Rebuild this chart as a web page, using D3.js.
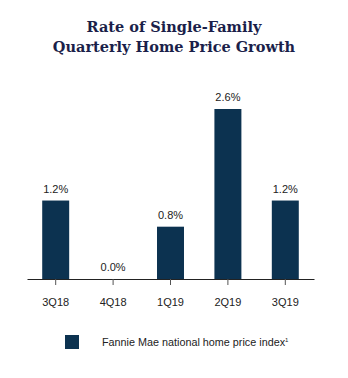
<!DOCTYPE html>
<html>
<head>
<meta charset="utf-8">
<script src="https://cdn.jsdelivr.net/npm/d3@7"></script>
<style>
  body { margin: 0; background: #fff; }
  svg { display: block; }
</style>
</head>
<body>
<svg id="chart"></svg>
<script>
const quarters = ["3Q18", "4Q18", "1Q19", "2Q19", "3Q19"];
const growth = [1.2, 0.0, 0.8, 2.6, 1.2];
const titleLines = ["Rate of Single-Family", "Quarterly Home Price Growth"];
const legendLabel = "Fannie Mae national home price index";

const width = 348, height = 378;
const margin = { top: 109, right: 34, bottom: 99, left: 27 };
const barColor = "#0c3250";

const svg = d3.select("#chart")
    .attr("width", width)
    .attr("height", height);

// title
svg.append("g")
    .selectAll("text")
    .data(titleLines)
    .join("text")
    .attr("x", 174)
    .attr("y", (d, i) => 32 + i * 20)
    .attr("text-anchor", "middle")
    .attr("font-family", "'DejaVu Serif', serif")
    .attr("font-weight", "bold")
    .attr("font-size", "14.5px")
    .attr("fill", "#1b1f4a")
    .text(d => d);

const x = d3.scaleBand()
    .domain(quarters)
    .range([margin.left, width - margin.right])
    .paddingInner(0.53)
    .paddingOuter(0.265);

const y = d3.scaleLinear()
    .domain([0, 2.6])
    .range([height - margin.bottom, margin.top]);

const data = quarters.map((q, i) => ({ q, v: growth[i] }));

svg.append("g")
    .selectAll("rect")
    .data(data)
    .join("rect")
    .attr("x", d => x(d.q))
    .attr("y", d => y(d.v))
    .attr("width", x.bandwidth())
    .attr("height", d => y(0) - y(d.v))
    .attr("fill", barColor);

// value labels
svg.append("g")
    .selectAll("text")
    .data(data)
    .join("text")
    .attr("x", d => x(d.q) + x.bandwidth() / 2)
    .attr("y", d => y(d.v) - 8)
    .attr("text-anchor", "middle")
    .attr("font-family", "'Liberation Sans', Arial, sans-serif")
    .attr("font-size", "11px")
    .attr("fill", "#222")
    .text(d => d.v.toFixed(1) + "%");

// x axis
const xAxis = d3.axisBottom(x).tickSize(6).tickSizeOuter(0).tickPadding(13);
const xAxisG = svg.append("g")
    .attr("transform", `translate(0,${y(0)})`)
    .call(xAxis);
xAxisG.select(".domain").attr("stroke", "#222").attr("stroke-width", 1.2);
xAxisG.selectAll(".tick line").attr("stroke", "#555");
xAxisG.selectAll(".tick text")
    .attr("font-family", "'Liberation Sans', Arial, sans-serif")
    .attr("font-size", "11px")
    .attr("fill", "#222");

// legend
const legend = svg.append("g").attr("transform", "translate(65,335)");
legend.append("rect")
    .attr("width", 14)
    .attr("height", 14)
    .attr("fill", barColor);
const lt = legend.append("text")
    .attr("x", 37)
    .attr("y", 11)
    .attr("font-family", "'Liberation Sans', Arial, sans-serif")
    .attr("font-size", "10.8px")
    .attr("fill", "#222")
    .text(legendLabel);
lt.append("tspan")
    .attr("font-size", "6px")
    .attr("dy", "-4")
    .text("1");
</script>
</body>
</html>
